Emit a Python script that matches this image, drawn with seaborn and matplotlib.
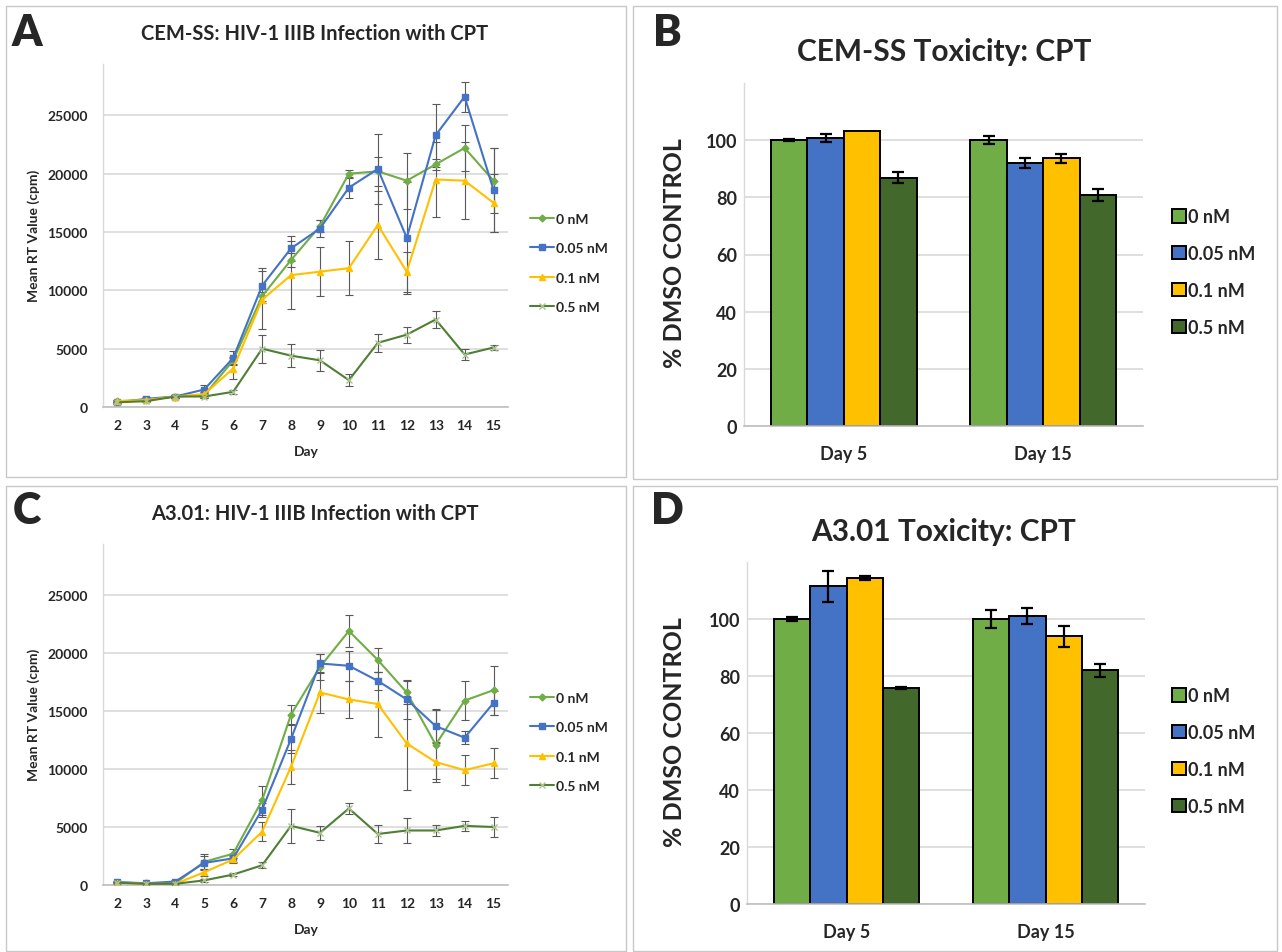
import numpy as np
import pandas as pd
import seaborn as sns
import matplotlib.pyplot as plt
from matplotlib.patches import Rectangle, Patch
from matplotlib.lines import Line2D

# --- datos ---
days = list(range(2, 16))
conc_labels = ["0 nM", "0.05 nM", "0.1 nM", "0.5 nM"]

# A: CEM-SS, mean RT value (cpm)
cem_0 = [500, 600, 900, 1000, 4000, 9500, 12600, 15500, 20000, 20200, 19400, 20800, 22200, 19400]
cem_005 = [400, 700, 900, 1500, 4200, 10400, 13600, 15300, 18800, 20400, 14500, 23300, 26600, 18600]
cem_01 = [500, 600, 900, 1100, 3300, 9200, 11300, 11600, 11900, 15600, 11600, 19500, 19400, 17500]
cem_05 = [400, 500, 900, 900, 1300, 5000, 4400, 4000, 2300, 5500, 6200, 7500, 4500, 5100]
cem_0_err = [100, 100, 150, 200, 300, 400, 600, 500, 300, 1250, 2400, 500, 2000, 2800]
cem_005_err = [100, 150, 150, 400, 600, 1500, 1100, 700, 850, 3000, 4800, 2700, 1300, 3600]
cem_01_err = [100, 100, 150, 200, 900, 2500, 2900, 2100, 2300, 2900, 1700, 3200, 3300, 2500]
cem_05_err = [50, 50, 100, 100, 150, 1200, 1000, 900, 500, 800, 700, 700, 500, 250]

# C: A3.01, mean RT value (cpm)
a3_0 = [200, 150, 150, 2000, 2700, 7300, 14700, 18800, 21900, 19400, 16600, 12100, 15900, 16800]
a3_005 = [250, 150, 300, 1900, 2300, 6500, 12600, 19100, 18900, 17600, 16000, 13700, 12700, 15700]
a3_01 = [200, 100, 100, 1100, 2200, 4600, 10200, 16600, 16000, 15600, 12200, 10600, 9900, 10500]
a3_05 = [200, 100, 100, 400, 900, 1700, 5100, 4500, 6600, 4400, 4700, 4700, 5100, 5000]
a3_0_err = [100, 50, 50, 650, 400, 1250, 800, 1100, 1400, 1050, 1000, 3000, 1700, 2100]
a3_005_err = [100, 50, 100, 600, 300, 600, 1200, 850, 1300, 800, 1700, 1500, 550, 1000]
a3_01_err = [50, 50, 50, 300, 300, 800, 1450, 1800, 1600, 2800, 4000, 1700, 1300, 1300]
a3_05_err = [50, 50, 50, 100, 150, 250, 1450, 600, 500, 800, 1100, 450, 450, 900]

# B y D: toxicidad (% DMSO control)
tox_days = ["Day 5", "Day 15"]
cem_tox_0 = [100.0, 100.0]
cem_tox_005 = [100.8, 91.9]
cem_tox_01 = [103.1, 93.6]
cem_tox_05 = [86.9, 80.8]
cem_tox_err = [[0.3, 1.4], [1.4, 1.7], [0.0, 1.5], [2.0, 2.0]]

a3_tox_0 = [100.0, 100.0]
a3_tox_005 = [111.5, 101.2]
a3_tox_01 = [114.4, 93.9]
a3_tox_05 = [75.8, 82.0]
a3_tox_err = [[0.8, 3.2], [5.4, 2.8], [0.6, 3.6], [0.4, 2.2]]

line_colors = ["#70AD47", "#4472C4", "#FFC000", "#4E7F34"]
bar_colors = ["#70AD47", "#4472C4", "#FFC000", "#43682B"]
markers = ["D", "s", "^", "x"]

sns.set_theme(style="white")
plt.rcParams["font.family"] = ["Lato", "DejaVu Sans"]
plt.rcParams["font.weight"] = "bold"

W, H = 1282, 953
fig = plt.figure(figsize=(W / 100, H / 100), dpi=100)


def px(x, y):
    return x / W, 1 - y / H


def add_axes(x0, y0, x1, y1):
    # coordenadas en pixeles (origen arriba a la izquierda)
    return fig.add_axes([x0 / W, 1 - y1 / H, (x1 - x0) / W, (y1 - y0) / H])


# marcos de cada panel
for (x0, y0, x1, y1) in [(6, 7, 626, 478), (633, 7, 1277, 480),
                         (6, 487, 626, 952), (633, 487, 1277, 952)]:
    fig.patches.append(Rectangle((x0 / W, 1 - y1 / H), (x1 - x0) / W, (y1 - y0) / H,
                                 transform=fig.transFigure, fill=False,
                                 edgecolor="#c8c8c8", lw=1))


def style_axes(ax, grid_lw=1.2):
    ax.yaxis.grid(True, color="#d9d9d9", lw=grid_lw)
    ax.xaxis.grid(False)
    ax.set_axisbelow(True)
    for s in ["top", "right"]:
        ax.spines[s].set_visible(False)
    ax.spines["left"].set_color("#d9d9d9")
    ax.spines["bottom"].set_color("#bfbfbf")
    ax.spines["left"].set_linewidth(1.0)
    ax.spines["bottom"].set_linewidth(1.2)
    ax.set_xlabel("")
    ax.set_ylabel("")


def line_panel(box, series, errs, title, title_y, legend_y):
    ax = add_axes(*box)
    for vals, err, col, mk in zip(series, errs, line_colors, markers):
        ax.errorbar(days, vals, yerr=err, fmt="none", ecolor="#595959",
                    elinewidth=0.8, capsize=3, capthick=0.8, zorder=2)
    for vals, col, mk in zip(series, line_colors, markers):
        mec = "#a9c28f" if mk == "x" else col
        sns.lineplot(x=days, y=vals, color=col, marker=mk, markersize=4.5 if mk != "D" else 3.5,
                     markeredgecolor=mec, markeredgewidth=1.0, lw=1.5, ax=ax, zorder=3)
    ax.set_xlim(1.5, 15.5)
    ax.set_ylim(0, 29400)
    ax.set_xticks(days)
    ax.set_yticks([0, 5000, 10000, 15000, 20000, 25000])
    style_axes(ax)
    ax.tick_params(axis="y", length=0, pad=11, labelsize=10)
    ax.tick_params(axis="x", length=0, pad=9, labelsize=10)
    for t in ax.get_xticklabels() + ax.get_yticklabels():
        t.set_fontweight("bold")
    fig.text(*px(315, title_y), title, ha="center", va="center", fontsize=14.5, fontweight="bold")
    fig.text(*px(34, (box[1] + box[3]) / 2 - 1), "Mean RT Value (cpm)", rotation=90,
             ha="center", va="center", fontsize=10, fontweight="bold")
    fig.text(*px(306, box[3] + 44), "Day", ha="center", va="center", fontsize=10, fontweight="bold")
    handles = [Line2D([], [], color=c, marker=m, lw=1.5,
                      markersize=4.5 if m != "D" else 3.5,
                      markeredgecolor=("#a9c28f" if m == "x" else c))
               for c, m in zip(line_colors, markers)]
    fig.legend(handles, conc_labels, loc="center left", bbox_to_anchor=px(530, legend_y),
               frameon=False, handlelength=1.7, handletextpad=0.2,
               labelspacing=1.25, borderpad=0, borderaxespad=0,
               prop={"weight": "bold", "size": 10})
    return ax


def bar_panel(box, series, errs, title, title_y, legend_y):
    ax = add_axes(*box)
    df = pd.DataFrame({
        "day": tox_days * 4,
        "conc": [c for c in conc_labels for _ in tox_days],
        "pct": [v for s in series for v in s],
    })
    sns.barplot(data=df, x="day", y="pct", hue="conc", palette=bar_colors,
                hue_order=conc_labels, order=tox_days, edgecolor="black",
                linewidth=1.4, width=0.73, saturation=1, errorbar=None,
                legend=False, ax=ax, zorder=2)
    for cont, err in zip(ax.containers, errs):
        for bar, e in zip(cont, err):
            if e <= 0:
                continue
            ax.errorbar(bar.get_x() + bar.get_width() / 2, bar.get_height(), yerr=e,
                        fmt="none", ecolor="black", elinewidth=1.6, capsize=4,
                        capthick=1.6, zorder=3)
    ax.set_xlim(-0.5, 1.5)
    ax.set_ylim(0, 120)
    ax.set_yticks([0, 20, 40, 60, 80, 100])
    style_axes(ax)
    ax.tick_params(axis="y", length=0, pad=5, labelsize=13)
    ax.tick_params(axis="x", length=0, pad=14, labelsize=13)
    for t in ax.get_xticklabels() + ax.get_yticklabels():
        t.set_fontweight("bold")
    fig.text(*px(944, title_y), title, ha="center", va="center", fontsize=21.5, fontweight="bold")
    fig.text(*px(674, (box[1] + box[3]) / 2 - 2), "% DMSO CONTROL", rotation=90,
             ha="center", va="center", fontsize=18, fontweight="bold")
    handles = [Patch(facecolor=c, edgecolor="black", lw=1.4) for c in bar_colors]
    fig.legend(handles, conc_labels, loc="center left", bbox_to_anchor=px(1172, legend_y),
               frameon=False, handlelength=0.75, handleheight=0.75, handletextpad=0.15,
               labelspacing=1.1, borderpad=0, borderaxespad=0,
               prop={"weight": "bold", "size": 13})
    return ax


line_panel((103, 65, 508, 408), [cem_0, cem_005, cem_01, cem_05],
           [cem_0_err, cem_005_err, cem_01_err, cem_05_err],
           "CEM-SS: HIV-1 IIIB Infection with CPT", 34, 264)
line_panel((103, 545, 508, 886), [a3_0, a3_005, a3_01, a3_05],
           [a3_0_err, a3_005_err, a3_01_err, a3_05_err],
           "A3.01: HIV-1 IIIB Infection with CPT", 514, 743)
bar_panel((744, 84, 1143, 427), [cem_tox_0, cem_tox_005, cem_tox_01, cem_tox_05],
          cem_tox_err, "CEM-SS Toxicity: CPT", 52, 273)
bar_panel((747, 563, 1145, 905), [a3_tox_0, a3_tox_005, a3_tox_01, a3_tox_05],
          a3_tox_err, "A3.01 Toxicity: CPT", 532, 752)

for letter, (x, y) in zip("ABCD", [(27, 33), (667, 33), (27, 511), (667, 511)]):
    fig.text(*px(x, y), letter, ha="center", va="center", fontsize=31, fontweight="heavy")

fig.savefig("out.png", dpi=100)
